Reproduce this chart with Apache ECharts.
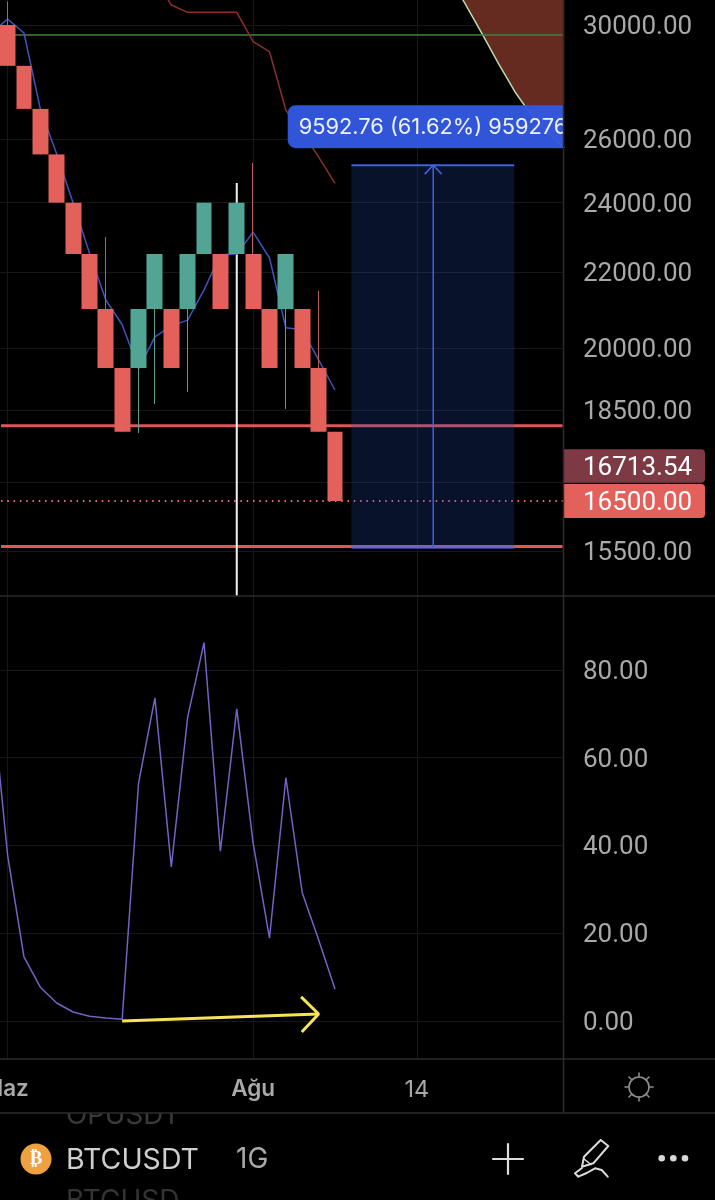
<!DOCTYPE html>
<html>
<head>
<meta charset="utf-8">
<style>html,body{margin:0;padding:0;background:#000}#c{width:715px;height:1200px}</style>
<script src="https://cdn.jsdelivr.net/npm/echarts@6/dist/echarts.min.js"></script>
</head>
<body>
<div id="c"></div>
<script>
// ---------- data ----------
const brickOpen  = [30000,28500,27000,25500,24000,22500,21000,19500,19500,21000,21000,21000,22500,22500,22500,22500,21000,21000,21000,19500,18000];
const brickClose = [28500,27000,25500,24000,22500,21000,19500,18000,21000,22500,19500,22500,24000,21000,24000,21000,19500,22500,19500,18000,16500];
const brickLow   = [28500,27000,25500,24000,22500,21000,19500,18000,17974,18640,19500,18925,22500,21000,22500,21000,19500,18526,19500,18000,16500];
const brickHigh  = [30900,28500,27000,25500,24000,22500,22990,19500,21000,22500,21000,22500,24000,22500,24000,25228,21000,22500,21000,21482,18000];

const maValues = [29700,30227,29700,27000,25510,24000,22530,21240,20590,19480,20280,20560,20710,21510,22480,22500,23130,22390,20510,20460,19700,18970]; // from index -1
const slowLine = [31823,30760,30480,30480,30480,30480,29380,29010,26960,26200,25420,24590];   // from index 9
const cloudEdge = [31864,30760,29660,28570,27580,26790,26200,25710];                    // from index 27
const greenLevel = 29625;
const redLevels = [18135,15585];
const lastPrice = 16500;
const livePrice = 16713.54;
const whiteLinePrice = [24600,14646];
const whiteLineIndex = 14;

const positionRange = [21,30.95];
const positionPrice = [15566,25159];
const positionArrowIndex = 26;
const positionLabel = '9592.76 (61.62%) 959276';

const oscValues = [75.6,37.8,14.6,7.7,4.1,2.05,1.1,0.7,0.4,54.2,73.6,35.1,69.2,86.2,38.7,71.1,40.5,18.9,55.4,29.2,18.5,7.3]; // from index -1
const yellowArrow = [[7,0],[19,1.6]];
const yellowHead = [[17.93,5.5],[19,1.6],[17.97,-2.5]];

const priceLabels = [30000,26000,24000,22000,20000,18500,15500];
const priceGrid   = [30000,26000,24000,22000,20000,18500,16900,15500];
const oscLabels   = [0,20,40,60,80];
const xTickIndex  = [0,15,25];
const xTickText   = ['Haz','Ağu','14'];

// ---------- look ----------
const UP='#52A595', DOWN='#E4605A', GRIDC='#171717', BORDER='#2c2c2e', AX='#a9a9a9';
const FONT='Inter', NUMFONT='Roboto', NUMSIZE=26;
const XMIN=-0.464, XMAX=33.93;
const rows=(a,start)=>a.map((v,i)=>[i+start,v]);
const fullWidth=[XMIN+0.06,XMAX-0.02];

function xAxisBase(idx,showLabel){
  return {
    type:'value',gridIndex:idx,min:XMIN,max:XMAX,
    axisLine:{show:false},
    axisTick:{show:false,customValues:xTickIndex},
    splitLine:{show:true,lineStyle:{color:GRIDC,width:1}},
    axisLabel:{show:showLabel,customValues:xTickIndex,margin:19,hideOverlap:false,
      showMinLabel:true,showMaxLabel:true,
      formatter:v=>{const t=xTickText[xTickIndex.indexOf(v)];return /^\d/.test(t)?'{n|'+t+'}':'{m|'+t+'}';},
      rich:{
        m:{fontFamily:FONT,fontSize:22.5,fontWeight:600,color:AX},
        n:{fontFamily:FONT,fontSize:23.5,fontWeight:400,color:AX}
      }}
  };
}

const hline=(p,name,style,z)=>({type:'line',name,xAxisIndex:0,yAxisIndex:0,data:[[fullWidth[0],p],[fullWidth[1],p]],
  showSymbol:false,symbol:'none',silent:true,z,lineStyle:style,clip:true});

const seg=(pts,stroke,w)=>({type:'polyline',z:22,shape:{points:pts},style:{fill:'none',stroke,lineWidth:w,lineCap:'round',lineJoin:'round'}});
const ICON='#8d8d8d', PEN='#dcdcdc';

const yLabel=(values)=>({customValues:values,margin:20,align:'left',verticalAlign:'top',lineHeight:5,color:AX,fontFamily:NUMFONT,fontSize:NUMSIZE,
  hideOverlap:false,showMinLabel:true,showMaxLabel:true,formatter:v=>Number(v).toFixed(2)});

const option={
  animation:false,backgroundColor:'#000',
  grid:[
    {left:0,top:0,width:563,height:596,containLabel:false,outerBoundsMode:'none'},
    {left:0,top:596,width:563,height:463,containLabel:false,outerBoundsMode:'none'}
  ],
  xAxis:[xAxisBase(0,false),xAxisBase(1,true)],
  yAxis:[
    {type:'log',gridIndex:0,position:'right',min:14646,max:30956,
      axisLine:{show:false},
      axisTick:{show:false,customValues:priceGrid},
      splitLine:{show:true,lineStyle:{color:GRIDC,width:1}},
      axisLabel:yLabel(priceLabels)},
    {type:'value',gridIndex:1,position:'right',min:-8.66,max:96.8,
      axisLine:{show:false},
      axisTick:{show:false,customValues:oscLabels},
      splitLine:{show:true,lineStyle:{color:GRIDC,width:1}},
      axisLabel:yLabel(oscLabels)}
  ],
  series:[
    {type:'line',name:'cloud',xAxisIndex:0,yAxisIndex:0,data:rows(cloudEdge,27),symbol:'none',z:2,
      lineStyle:{color:'#b9dcae',width:1.5},areaStyle:{color:'#652a20',opacity:1,origin:'end'}},
    hline(greenLevel,'green',{color:'#44823a',width:1.3},3),
    hline(redLevels[0],'red1',{color:'#E0565A',width:3},3),
    hline(redLevels[1],'red2',{color:'#E0565A',width:3},3),
    hline(lastPrice,'last',{color:'#E8707A',width:2,type:[1.5,4.8]},3),
    {type:'line',name:'white',xAxisIndex:0,yAxisIndex:0,data:whiteLinePrice.map(p=>[whiteLineIndex,p]),symbol:'none',z:4,
      lineStyle:{color:'#f2f2f2',width:2}},
    {type:'line',name:'slow',xAxisIndex:0,yAxisIndex:0,data:rows(slowLine,9),symbol:'none',z:4,
      lineStyle:{color:'#8a2f2b',width:1.5}},
    {type:'line',name:'ma',xAxisIndex:0,yAxisIndex:0,data:rows(maValues,-1),symbol:'none',z:4,
      lineStyle:{color:'#3d55b8',width:1.5}},
    {type:'candlestick',name:'wicks',xAxisIndex:0,yAxisIndex:0,barWidth:1,z:5,
      data:brickOpen.map((o,i)=>[i,o,brickClose[i],brickLow[i],brickHigh[i]]),
      itemStyle:{color:'#5d9c8e',color0:'#b5605c',borderColor:'#5d9c8e',borderColor0:'#b5605c',borderWidth:1}},
    {type:'candlestick',name:'bricks',xAxisIndex:0,yAxisIndex:0,barWidth:16.4,z:6,
      data:brickOpen.map((o,i)=>[i,o,brickClose[i],Math.min(o,brickClose[i]),Math.max(o,brickClose[i])]),
      itemStyle:{color:UP,color0:DOWN,borderColor:UP,borderColor0:DOWN,borderWidth:0}},
    {type:'custom',name:'position',xAxisIndex:0,yAxisIndex:0,z:7,clip:true,
      data:[[positionRange[0],positionRange[1],positionPrice[0],positionPrice[1],positionArrowIndex]],
      encode:{x:[0,1,4],y:[2,3]},
      renderItem:(p,api)=>{
        const a=api.coord([api.value(0),api.value(2)]), b=api.coord([api.value(1),api.value(3)]);
        const m=api.coord([api.value(4),api.value(3)]), mb=api.coord([api.value(4),api.value(2)]);
        return {type:'group',children:[
          {type:'rect',shape:{x:a[0],y:b[1],width:b[0]-a[0],height:a[1]-b[1]},style:{fill:'rgba(35,70,170,0.25)'}},
          {type:'line',shape:{x1:a[0],y1:b[1],x2:b[0],y2:b[1]},style:{stroke:'#3c5fe4',lineWidth:2}},
          {type:'line',shape:{x1:a[0],y1:a[1],x2:b[0],y2:a[1]},style:{stroke:'rgba(84,104,232,0.75)',lineWidth:2.5}},
          {type:'line',shape:{x1:m[0],y1:b[1],x2:mb[0],y2:a[1]},style:{stroke:'#3f60e2',lineWidth:1.5}},
          {type:'polyline',shape:{points:[[m[0]-8.5,b[1]+9],[m[0],b[1]],[m[0]+8.5,b[1]+9]]},style:{fill:'none',stroke:'#3f60e2',lineWidth:1.5}},
          {type:'rect',shape:{x:m[0]-145.5,y:b[1]-60,width:320,height:43,r:8},style:{fill:'#3358e0',opacity:0.97}},
          {type:'text',x:m[0]-134.5,y:b[1]-38,style:{text:positionLabel,fill:'#eef1ff',fontFamily:FONT,fontSize:21.8,verticalAlign:'middle',align:'left'}}
        ]};
      }},
    {type:'custom',name:'tags',xAxisIndex:0,yAxisIndex:0,z:8,clip:false,
      data:[[XMAX,lastPrice],[XMAX,livePrice]],
      renderItem:(p,api)=>{
        const c=api.coord([api.value(0),api.value(1)]);
        const last=api.value(1)===lastPrice;
        const cy=last?c[1]:c[1]-24.5;
        return {type:'group',children:[
          {type:'rect',shape:{x:c[0],y:cy-17,width:142,height:last?34:33.5,r:[0,4,4,0]},style:{fill:last?DOWN:'#7d3a45'}},
          {type:'text',x:c[0]+20,y:cy+2,style:{text:api.value(1).toFixed(2),fill:'#fff',fontFamily:NUMFONT,fontSize:NUMSIZE,verticalAlign:'middle',align:'left'}}
        ]};
      }},
    {type:'line',name:'osc',xAxisIndex:1,yAxisIndex:1,data:rows(oscValues,-1),symbol:'none',z:3,
      lineStyle:{color:'#7562c4',width:1.5}},
    {type:'line',name:'arrow',xAxisIndex:1,yAxisIndex:1,data:yellowArrow,symbol:'none',z:4,
      lineStyle:{color:'#f6e35a',width:3}},
    {type:'line',name:'head',xAxisIndex:1,yAxisIndex:1,data:yellowHead,symbol:'none',z:4,
      lineStyle:{color:'#f6e35a',width:3}}
  ],
  graphic:{elements:[
    {type:'text',z:20,x:66,y:1102,style:{text:'OPUSDT',fill:'#3a3a3a',fontFamily:FONT,fontSize:27.7}},
    {type:'rect',z:21,shape:{x:0,y:1101,width:715,height:12},style:{fill:'#000'}},
    {type:'text',z:20,x:66,y:1188,style:{text:'BTCUSD',fill:'#333',fontFamily:FONT,fontSize:28}},
    {type:'line',z:22,shape:{x1:0,y1:596,x2:715,y2:596},style:{stroke:BORDER,lineWidth:1.5}},
    {type:'line',z:22,shape:{x1:0,y1:1059,x2:715,y2:1059},style:{stroke:BORDER,lineWidth:1.5}},
    {type:'line',z:22,shape:{x1:0,y1:1113,x2:715,y2:1113},style:{stroke:BORDER,lineWidth:1.5}},
    {type:'line',z:22,shape:{x1:563.5,y1:0,x2:563.5,y2:1113},style:{stroke:BORDER,lineWidth:1.5}},
    // settings icon
    {type:'circle',z:22,shape:{cx:639,cy:1087,r:10},style:{fill:'none',stroke:ICON,lineWidth:1.6}},
    seg([[639,1073],[639,1077]],ICON,1.6),seg([[639,1097],[639,1101]],ICON,1.6),
    seg([[625,1087],[629,1087]],ICON,1.6),seg([[649,1087],[653,1087]],ICON,1.6),
    seg([[629,1077],[632,1080]],ICON,1.6),seg([[646,1094],[649,1097]],ICON,1.6),
    seg([[629,1097],[632,1094]],ICON,1.6),seg([[646,1080],[649,1077]],ICON,1.6),
    // symbol row
    {type:'circle',z:22,shape:{cx:36,cy:1159,r:15.5},style:{fill:'#EFA03F'}},
    {type:'text',z:23,x:36,y:1159,style:{text:'₿',fill:'#fff',fontFamily:'DejaVu Sans',fontWeight:'bold',fontSize:19,align:'center',verticalAlign:'middle'}},
    {type:'text',z:22,x:66,y:1160,style:{text:'BTCUSDT',fill:'#cfcfcf',fontFamily:FONT,fontSize:28.5,verticalAlign:'middle'}},
    {type:'text',z:22,x:236,y:1160,style:{text:'1G',fill:'#a9a9a9',fontFamily:FONT,fontSize:28,verticalAlign:'middle'}},
    seg([[508,1144],[508,1174]],PEN,2.2),seg([[493,1159],[523,1159]],PEN,2.2),
    seg([[600.7,1140],[608.3,1146],[593.3,1163.3],[582,1166.7],[584,1156.7],[600.7,1140]],PEN,2),
    seg([[584,1159],[591,1164.5]],PEN,1.5),
    seg([[582,1168],[575,1173.3],[578.3,1176.7],[586.7,1173],[595,1168.3],[601.7,1170],[607.7,1176.7]],PEN,2),
    {type:'circle',z:22,shape:{cx:661.7,cy:1158.3,r:3.3},style:{fill:'#d8d8d8'}},
    {type:'circle',z:22,shape:{cx:673.3,cy:1158.3,r:3.3},style:{fill:'#d8d8d8'}},
    {type:'circle',z:22,shape:{cx:685,cy:1158.3,r:3.3},style:{fill:'#d8d8d8'}}
  ]}
};
echarts.init(document.getElementById('c'),null,{renderer:'canvas'}).setOption(option);
</script>
</body>
</html>
